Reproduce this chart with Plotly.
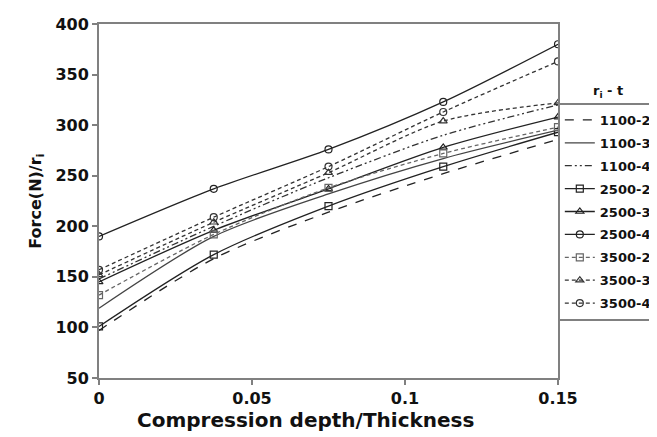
import plotly.graph_objects as go

# compression depth / thickness where values were read
depth = [0, 0.0375, 0.075, 0.1125, 0.15]

# Force(N)/r_i for each r_i - t combination
f_1100_20 = [97, 168, 214, 252, 286]
f_1100_30 = [119, 190, 232, 267, 295]
f_1100_40 = [148, 200, 248, 290, 320]
f_2500_20 = [101, 172, 220, 259, 293]
f_2500_30 = [145, 196, 237, 278, 308]
f_2500_40 = [190, 237, 276, 323, 380]
f_3500_20 = [132, 192, 238, 272, 298]
f_3500_30 = [152, 204, 253, 304, 322]
f_3500_40 = [157, 209, 259, 313, 363]

x_ticks = [0, 0.05, 0.1, 0.15]
x_tick_text = ['0', '0.05', '0.1', '0.15']
y_ticks = [50, 100, 150, 200, 250, 300, 350, 400]

series = [
    ('1100-20', f_1100_20, '#222', 'dash', None),
    ('1100-30', f_1100_30, '#444', 'solid', None),
    ('1100-40', f_1100_40, '#333', '7px,3px,2px,3px,2px,3px', None),
    ('2500-20', f_2500_20, '#222', 'solid', 'square-open'),
    ('2500-30', f_2500_30, '#222', 'solid', 'triangle-up-open'),
    ('2500-40', f_2500_40, '#222', 'solid', 'circle-open'),
    ('3500-20', f_3500_20, '#666', '4px,3px', 'square-open'),
    ('3500-30', f_3500_30, '#333', '4px,3px', 'triangle-up-open'),
    ('3500-40', f_3500_40, '#333', '4px,3px', 'circle-open'),
]

fig = go.Figure()
for name, vals, col, dash, sym in series:
    mode = 'lines+markers' if sym else 'lines'
    fig.add_trace(go.Scatter(
        x=depth, y=vals, name=name, mode=mode, legendgroup=name,
        line=dict(color=col, width=1.3, dash=dash, shape='spline', smoothing=0.8),
        marker=dict(symbol=sym or 'circle', size=7, color=col,
                    line=dict(color=col, width=1.2)),
    ))

font = 'DejaVu Sans, sans-serif'
axis_style = dict(
    showline=True, linecolor='#808080', linewidth=2, mirror=True,
    ticks='outside', ticklen=5, tickwidth=2, tickcolor='#808080',
    showgrid=False, zeroline=False,
    tickfont=dict(family=font, size=16, color='#111', weight='bold'),
)

fig.update_xaxes(range=[0, 0.15], tickvals=x_ticks, ticktext=x_tick_text, **axis_style)
fig.update_yaxes(range=[50, 400], tickvals=y_ticks, **axis_style)

fig.update_layout(
    width=657, height=437,
    margin=dict(l=91, r=107, t=16, b=67, autoexpand=False),
    paper_bgcolor='white', plot_bgcolor='white',
    showlegend=True,
    legend=dict(x=0.9996, y=0.777, xanchor='left', yanchor='top',
                bordercolor='#808080', borderwidth=2, bgcolor='white',
                font=dict(family=font, size=13, color='#111', weight='bold'),
                tracegroupgap=3, itemwidth=30),
    annotations=[
        dict(text='Compression depth/Thickness', x=0.449, y=-0.157,
             xref='paper', yref='paper', showarrow=False,
             font=dict(family=font, size=20, color='#111', weight='bold')),
        dict(text='Force(N)/r<sub>i</sub>', x=-0.138, y=0.5, textangle=-90,
             xanchor='center', yanchor='middle',
             xref='paper', yref='paper', showarrow=False,
             font=dict(family=font, size=16, color='#111', weight='bold')),
        dict(text='r<sub>i</sub> - t', x=1.072, y=0.81, xanchor='left',
             yanchor='middle', xref='paper', yref='paper', showarrow=False,
             font=dict(family=font, size=13, color='#111', weight='bold')),
    ],
)

fig.write_html("out.html")
